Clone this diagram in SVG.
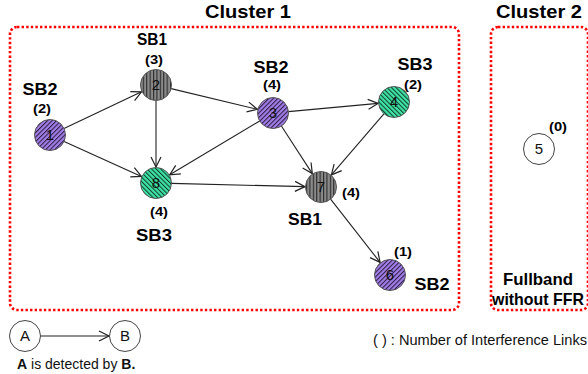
<svg xmlns="http://www.w3.org/2000/svg" width="588" height="374" viewBox="0 0 588 374">
<style>
.cl{fill:none;stroke:#ff0000;stroke-width:2.6;stroke-dasharray:2.4 2.2}
.t{font-family:"Liberation Sans",Arial,sans-serif;font-weight:bold;fill:#000}
.title{font-size:19px}
.sb{font-size:17px}
.ct{font-size:13px}
.num{font-family:"Liberation Sans",Arial,sans-serif;font-size:15px;fill:#111;text-anchor:middle}
.nd{stroke:#555;stroke-width:1}
.e{stroke:#222;stroke-width:1.1;fill:none;marker-end:url(#ah)}
.plain{fill:#fff;stroke:#444;stroke-width:1}
</style>
<defs>
<marker id="ah" markerUnits="userSpaceOnUse" markerWidth="14" markerHeight="14" viewBox="-12 -6 14 12" refX="0" refY="0" orient="auto">
<path d="M-10,-5 L0,0 L-10,5" fill="none" stroke="#222" stroke-width="1.2"/>
</marker>
<pattern id="pp" patternUnits="userSpaceOnUse" width="3.2" height="3.2" patternTransform="rotate(45)">
<rect width="3.2" height="3.2" fill="#a17ee6"/>
<rect width="1" height="3.2" fill="#2a1a40"/>
</pattern>
<pattern id="pg" patternUnits="userSpaceOnUse" width="3.2" height="3.2" patternTransform="rotate(-45)">
<rect width="3.2" height="3.2" fill="#3fe3a6"/>
<rect width="1" height="3.2" fill="#0f3a2a"/>
</pattern>
<pattern id="pk" patternUnits="userSpaceOnUse" width="3.4" height="3.4">
<rect width="3.4" height="3.4" fill="#8a8a8a"/>
<rect width="1.1" height="3.4" fill="#2a2a2a"/>
</pattern>
</defs>
<rect width="588" height="374" fill="#fff"/>

<g id="cluster1">
<rect class="cl" x="10" y="27" width="449" height="283" rx="7"/>
<text class="t title" x="248" y="18" text-anchor="middle" textLength="86" lengthAdjust="spacingAndGlyphs">Cluster 1</text>
</g>
<g id="cluster2">
<rect class="cl" x="491" y="27" width="97" height="283" rx="7"/>
<text class="t title" x="539" y="18" text-anchor="middle" textLength="86" lengthAdjust="spacingAndGlyphs">Cluster 2</text>
<text class="t sb" x="538" y="285" text-anchor="middle" textLength="70" lengthAdjust="spacingAndGlyphs">Fullband</text>
<text class="t sb" x="492" y="305" textLength="92" lengthAdjust="spacingAndGlyphs">without FFR</text>
</g>

<g id="connectors">
<line class="e" x1="64" y1="128.4" x2="141.5" y2="91.8"/>
<line class="e" x1="64.1" y1="141.4" x2="141.4" y2="176.4"/>
<line class="e" x1="156" y1="100.5" x2="156" y2="167"/>
<line class="e" x1="171.1" y1="88.6" x2="257.4" y2="109.3"/>
<line class="e" x1="259.7" y1="121" x2="169.7" y2="174.8"/>
<line class="e" x1="288.4" y1="111.6" x2="378.1" y2="103.4"/>
<line class="e" x1="281.4" y1="126" x2="312.3" y2="173.6"/>
<line class="e" x1="383.9" y1="113.8" x2="331.4" y2="174.9"/>
<line class="e" x1="171.5" y1="183.4" x2="305" y2="186.6"/>
<line class="e" x1="330.6" y1="199.2" x2="380.1" y2="262.4"/>
<line class="e" x1="40.5" y1="336" x2="109" y2="336"/>
</g>

<g id="n1">
<circle class="nd" cx="50" cy="135" r="15.5" fill="url(#pp)"/>
<text class="num" x="50" y="140">1</text>
<text class="t sb" x="40" y="95" text-anchor="middle" textLength="35" lengthAdjust="spacingAndGlyphs">SB2</text>
<text class="t ct" x="42" y="113" text-anchor="middle" textLength="18" lengthAdjust="spacingAndGlyphs">(2)</text>
</g>
<g id="n2">
<circle class="nd" cx="156" cy="85" r="15.5" fill="url(#pk)"/>
<text class="num" x="156" y="90">2</text>
<text class="t sb" x="152" y="45" text-anchor="middle" textLength="30" lengthAdjust="spacingAndGlyphs">SB1</text>
<text class="t ct" x="154" y="64" text-anchor="middle" textLength="18" lengthAdjust="spacingAndGlyphs">(3)</text>
</g>
<g id="n3">
<circle class="nd" cx="273" cy="113" r="15.5" fill="url(#pp)"/>
<text class="num" x="273" y="118">3</text>
<text class="t sb" x="271" y="73" text-anchor="middle" textLength="35" lengthAdjust="spacingAndGlyphs">SB2</text>
<text class="t ct" x="272" y="89" text-anchor="middle" textLength="18" lengthAdjust="spacingAndGlyphs">(4)</text>
</g>
<g id="n4">
<circle class="nd" cx="394" cy="102" r="15.5" fill="url(#pg)"/>
<text class="num" x="394" y="107">4</text>
<text class="t sb" x="415" y="70" text-anchor="middle" textLength="35" lengthAdjust="spacingAndGlyphs">SB3</text>
<text class="t ct" x="413" y="89" text-anchor="middle" textLength="18" lengthAdjust="spacingAndGlyphs">(2)</text>
</g>
<g id="n5">
<circle class="plain" cx="539" cy="149" r="15.5"/>
<text class="num" x="539" y="154">5</text>
<text class="t ct" x="558" y="131" text-anchor="middle" textLength="18" lengthAdjust="spacingAndGlyphs">(0)</text>
</g>
<g id="n6">
<circle class="nd" cx="390" cy="275" r="15.5" fill="url(#pp)"/>
<text class="num" x="390" y="280">6</text>
<text class="t ct" x="403" y="256" text-anchor="middle" textLength="18" lengthAdjust="spacingAndGlyphs">(1)</text>
<text class="t sb" x="432" y="290" text-anchor="middle" textLength="35" lengthAdjust="spacingAndGlyphs">SB2</text>
</g>
<g id="n7">
<circle class="nd" cx="321" cy="187" r="15.5" fill="url(#pk)"/>
<text class="num" x="321" y="192">7</text>
<text class="t ct" x="351" y="197" text-anchor="middle" textLength="18" lengthAdjust="spacingAndGlyphs">(4)</text>
<text class="t sb" x="305" y="225" text-anchor="middle" textLength="34" lengthAdjust="spacingAndGlyphs">SB1</text>
</g>
<g id="n8">
<circle class="nd" cx="156" cy="183" r="15.5" fill="url(#pg)"/>
<text class="num" x="156" y="188">8</text>
<text class="t ct" x="159" y="216" text-anchor="middle" textLength="18" lengthAdjust="spacingAndGlyphs">(4)</text>
<text class="t sb" x="154" y="241" text-anchor="middle" textLength="36" lengthAdjust="spacingAndGlyphs">SB3</text>
</g>

<g id="legendA">
<circle class="plain" cx="25" cy="336" r="15.5"/>
<text class="num" x="25" y="341">A</text>
</g>
<g id="legendB">
<circle class="plain" cx="125" cy="336" r="15.5"/>
<text class="num" x="125" y="341">B</text>
</g>
<text x="17" y="369" font-family="Liberation Sans,Arial,sans-serif" font-size="14" fill="#111"><tspan font-weight="bold">A</tspan> is detected by <tspan font-weight="bold">B.</tspan></text>
<text x="373" y="345" font-family="Liberation Sans,Arial,sans-serif" font-size="14" fill="#111" textLength="214" lengthAdjust="spacingAndGlyphs">( ) : Number of Interference Links</text>
</svg>
